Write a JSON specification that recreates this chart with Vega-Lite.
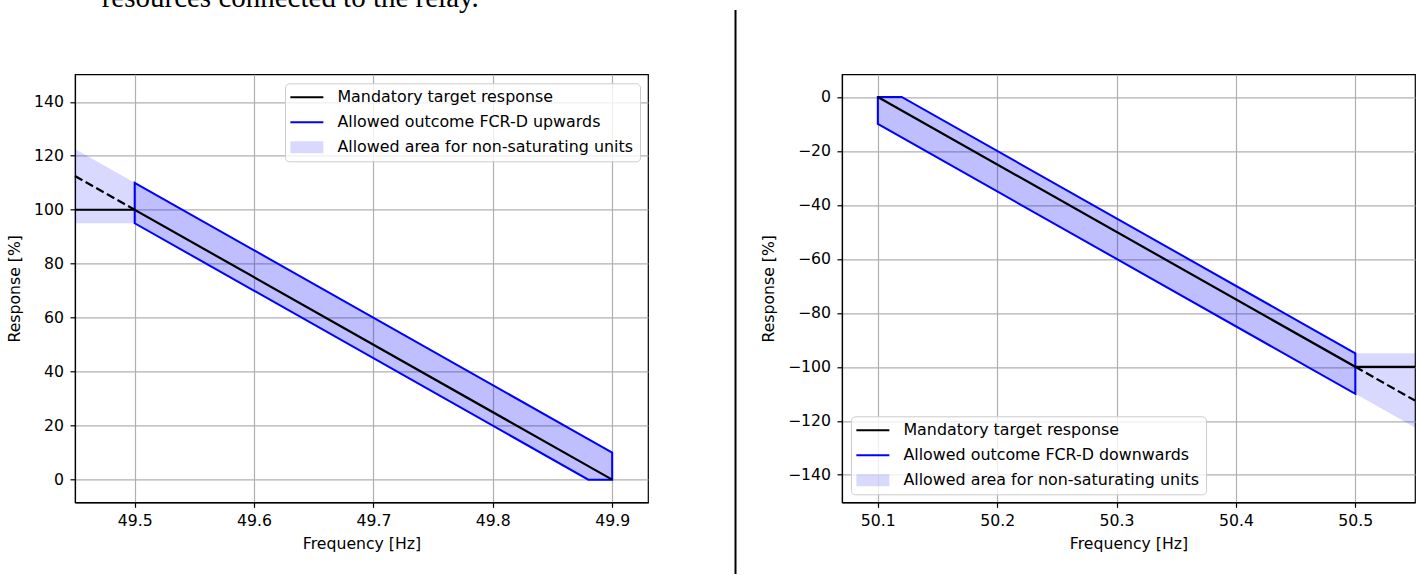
{
  "$schema": "https://vega.github.io/schema/vega-lite/v6.json",
  "autosize": {"type": "pad"},
  "padding": {"left": 5, "top": -15.7, "right": 0, "bottom": 0},
  "background": "white",
  "title": {"text": "resources connected to the relay.", "anchor": "start", "frame": "group", "font": "Liberation Serif", "fontSize": 29, "fontWeight": "normal", "color": "#000000", "baseline": "alphabetic", "offset": 2, "dx": 26.7, "dy": 30},
  "bounds": "flush",
  "spacing": 194,
  "resolve": {"scale": {"x": "independent", "y": "independent", "color": "independent"}, "legend": {"color": "independent"}},
  "config": {
    "view": {"stroke": "#000000", "strokeWidth": 1.2},
    "axis": {"labelFont": "DejaVu Sans", "labelFontSize": 15.7, "labelColor": "#000000", "titleFont": "DejaVu Sans", "titleFontSize": 15.7, "titleFontWeight": "normal", "titleColor": "#000000", "tickColor": "#000000", "tickSize": 5, "tickWidth": 1.2, "domainColor": "#000000", "domainWidth": 1.2, "gridColor": "#b0b0b0", "gridWidth": 1.2, "labelFlush": false},
    "axisX": {"labelPadding": 6, "titlePadding": 8.5},
    "axisY": {"labelPadding": 6.5, "titlePadding": 11},
    "legend": {"symbolSize": 1089, "symbolStrokeWidth": 2.2, "labelFont": "DejaVu Sans", "labelFontSize": 15.9, "labelColor": "#000000", "labelLimit": 500, "labelOffset": 30.5, "rowPadding": 8, "padding": 6, "fillColor": "rgba(255,255,255,0.8)", "strokeColor": "#cccccc", "cornerRadius": 4}
  },
  "hconcat": [
    {
      "width": 573,
      "height": 428,
      "encoding": {
        "x": {"field": "f", "type": "quantitative", "scale": {"domain": [49.45, 49.93], "nice": false, "zero": false}, "axis": {"title": "Frequency [Hz]", "values": [49.5, 49.6, 49.7, 49.8, 49.9], "format": ".1f"}},
        "y": {"field": "r", "type": "quantitative", "scale": {"domain": [-8.4, 150.2], "nice": false, "zero": false}, "axis": {"title": "Response [%]", "values": [0, 20, 40, 60, 80, 100, 120, 140]}},
        "color": {"field": "series", "type": "nominal", "scale": {"domain": ["Mandatory target response", "Allowed outcome FCR-D upwards", "Allowed area for non-saturating units"], "range": ["#000000", "#0000ff", "rgba(0,0,255,0.15)"]},
          "legend": {"title": null, "orient": "top-right", "offset": 8.5,
            "encode": {"symbols": {"update": {
              "shape": {"signal": "datum.value === 'Allowed area for non-saturating units' ? 'M-0.52,-0.36H1.48V0.36H-0.52Z' : 'M-0.52,0H1.48'"},
              "strokeWidth": {"signal": "datum.value === 'Allowed area for non-saturating units' ? 0 : 2.2"},
              "strokeDash": {"value": [1, 0]},
              "opacity": {"value": 1}, "fillOpacity": {"value": 1}, "strokeOpacity": {"value": 1}}}}}}
      },
      "layer": [
        {"data": {"values": [
          {"f": 49.45, "r": 122.5, "r2": 95, "series": "Allowed area for non-saturating units"},
          {"f": 49.5, "r": 110, "r2": 95, "series": "Allowed area for non-saturating units"}]},
         "mark": {"type": "area", "fillOpacity": 1, "strokeWidth": 0},
         "encoding": {"y2": {"field": "r2"}}},
        {"data": {"values": [
          {"f": 49.5, "r": 110, "r2": 95, "series": "Allowed outcome FCR-D upwards"},
          {"f": 49.88, "r": 15, "r2": 0, "series": "Allowed outcome FCR-D upwards"},
          {"f": 49.9, "r": 10, "r2": 0, "series": "Allowed outcome FCR-D upwards"}]},
         "mark": {"type": "area", "fillOpacity": 0.25, "stroke": "#0000ff", "strokeWidth": 2, "strokeJoin": "miter"},
         "encoding": {"y2": {"field": "r2"}}},
        {"data": {"values": [
          {"f": 49.45, "r": 100, "series": "Mandatory target response"},
          {"f": 49.5, "r": 100, "series": "Mandatory target response"},
          {"f": 49.9, "r": 0, "series": "Mandatory target response"}]},
         "mark": {"type": "line", "strokeWidth": 2.2}},
        {"data": {"values": [
          {"f": 49.45, "r": 112.5, "series": "Mandatory target response"},
          {"f": 49.5, "r": 100, "series": "Mandatory target response"}]},
         "mark": {"type": "line", "strokeWidth": 2.2, "strokeDash": [8.5, 3.7]}},
        {"data": {"values": [{"f": 50.0033, "r": 174.03, "r2": -34.95, "series": "divider"}]},
         "mark": {"type": "rule", "strokeWidth": 2, "clip": false},
         "encoding": {"y2": {"field": "r2"}, "color": {"value": "#000000"}}}
      ]
    },
    {
      "width": 573,
      "height": 428,
      "encoding": {
        "x": {"field": "f", "type": "quantitative", "scale": {"domain": [50.07, 50.55], "nice": false, "zero": false}, "axis": {"title": "Frequency [Hz]", "values": [50.1, 50.2, 50.3, 50.4, 50.5], "format": ".1f"}},
        "y": {"field": "r", "type": "quantitative", "scale": {"domain": [-150.2, 8.4], "nice": false, "zero": false}, "axis": {"title": "Response [%]", "values": [-140, -120, -100, -80, -60, -40, -20, 0]}},
        "color": {"field": "series", "type": "nominal", "scale": {"domain": ["Mandatory target response", "Allowed outcome FCR-D downwards", "Allowed area for non-saturating units"], "range": ["#000000", "#0000ff", "rgba(0,0,255,0.15)"]},
          "legend": {"title": null, "orient": "bottom-left", "offset": 8.5,
            "encode": {"symbols": {"update": {
              "shape": {"signal": "datum.value === 'Allowed area for non-saturating units' ? 'M-0.52,-0.36H1.48V0.36H-0.52Z' : 'M-0.52,0H1.48'"},
              "strokeWidth": {"signal": "datum.value === 'Allowed area for non-saturating units' ? 0 : 2.2"},
              "strokeDash": {"value": [1, 0]},
              "opacity": {"value": 1}, "fillOpacity": {"value": 1}, "strokeOpacity": {"value": 1}}}}}}
      },
      "layer": [
        {"data": {"values": [
          {"f": 50.5, "r": -95, "r2": -110, "series": "Allowed area for non-saturating units"},
          {"f": 50.55, "r": -95, "r2": -122.5, "series": "Allowed area for non-saturating units"}]},
         "mark": {"type": "area", "fillOpacity": 1, "strokeWidth": 0},
         "encoding": {"y2": {"field": "r2"}}},
        {"data": {"values": [
          {"f": 50.1, "r": 0, "r2": -10, "series": "Allowed outcome FCR-D downwards"},
          {"f": 50.12, "r": 0, "r2": -15, "series": "Allowed outcome FCR-D downwards"},
          {"f": 50.5, "r": -95, "r2": -110, "series": "Allowed outcome FCR-D downwards"}]},
         "mark": {"type": "area", "fillOpacity": 0.25, "stroke": "#0000ff", "strokeWidth": 2, "strokeJoin": "miter"},
         "encoding": {"y2": {"field": "r2"}}},
        {"data": {"values": [
          {"f": 50.1, "r": 0, "series": "Mandatory target response"},
          {"f": 50.5, "r": -100, "series": "Mandatory target response"},
          {"f": 50.55, "r": -100, "series": "Mandatory target response"}]},
         "mark": {"type": "line", "strokeWidth": 2.2}},
        {"data": {"values": [
          {"f": 50.5, "r": -100, "series": "Mandatory target response"},
          {"f": 50.55, "r": -112.5, "series": "Mandatory target response"}]},
         "mark": {"type": "line", "strokeWidth": 2.2, "strokeDash": [8.5, 3.7]}}
      ]
    }
  ]
}
